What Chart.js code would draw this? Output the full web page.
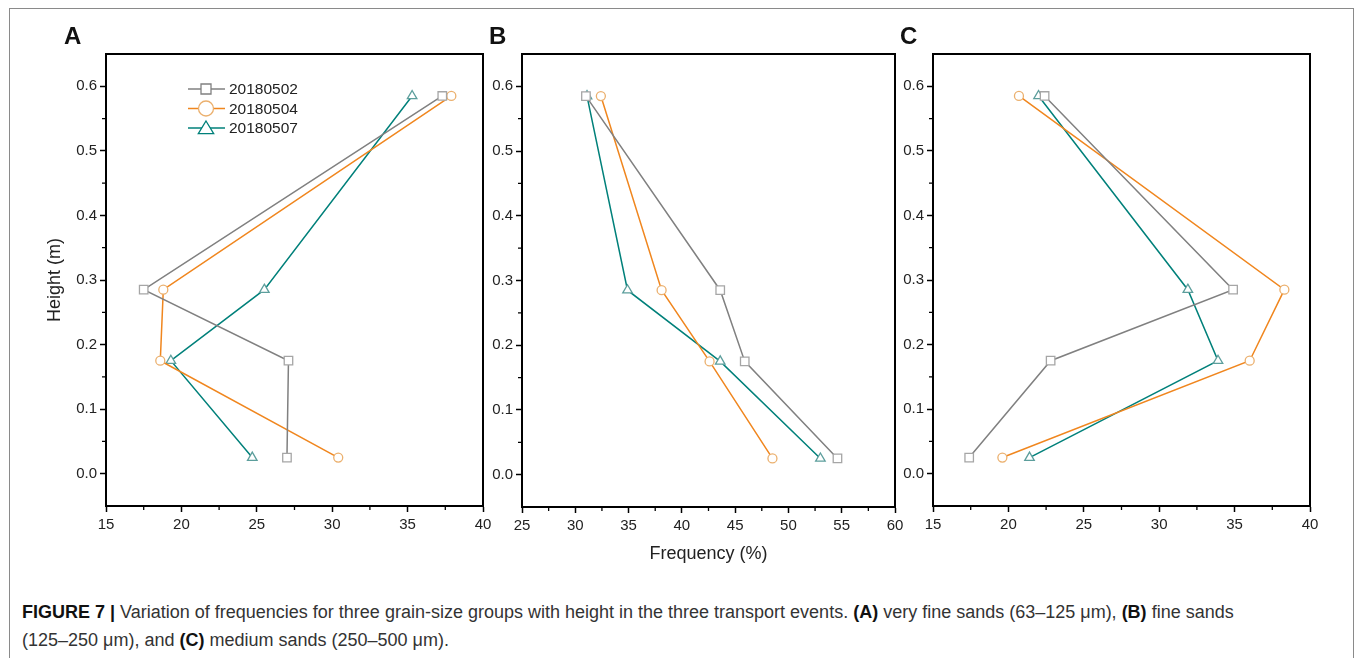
<!DOCTYPE html>
<html>
<head>
<meta charset="utf-8">
<script src="https://cdn.jsdelivr.net/npm/chart.js@4.4.0/dist/chart.umd.min.js"></script>
<style>
  body { margin: 0; background: #fff; font-family: 'Liberation Sans', Arial, sans-serif; }
  #wrap { position: relative; width: 1355px; height: 658px; overflow: hidden; }
  #frame { position: absolute; left: 9px; top: 8px; width: 1343px; height: 700px; border: 1px solid #8a8a8a; }
  canvas { position: absolute; left: 0; top: 0; }
  .letter { position: absolute; top: 24px; font: bold 24px/24px 'Liberation Sans', Arial, sans-serif; color: #111; }
  #caption { position: absolute; left: 22px; top: 598px; font-size: 18px; line-height: 28px; color: #333; white-space: nowrap; }
  #caption b { color: #111; }
</style>
</head>
<body>
<div id="wrap">
  <div id="frame"></div>
  <canvas id="chartA" width="1355" height="580"></canvas>
  <canvas id="chartB" width="1355" height="580"></canvas>
  <canvas id="chartC" width="1355" height="580"></canvas>
  <div class="letter" style="left:64px">A</div>
  <div class="letter" style="left:489px">B</div>
  <div class="letter" style="left:900px">C</div>
  <div id="caption"><b>FIGURE 7 |</b> Variation of frequencies for three grain-size groups with height in the three transport events. <b>(A)</b> very fine sands (63–125 μm), <b>(B)</b> fine sands<br>(125–250 μm), and <b>(C)</b> medium sands (250–500 μm).</div>
</div>
<script>
// hauteurs de prélèvement (m)
const heights = [0.585, 0.285, 0.175, 0.025];
const events = ['20180502', '20180504', '20180507'];

// A : sables très fins
const freqA_0502 = [37.3, 17.5, 27.1, 27.0];
const freqA_0504 = [37.9, 18.8, 18.6, 30.4];
const freqA_0507 = [35.3, 25.5, 19.3, 24.7];
// B : sables fins
const freqB_0502 = [31.0, 43.6, 45.9, 54.6];
const freqB_0504 = [32.4, 38.1, 42.6, 48.5];
const freqB_0507 = [31.1, 34.9, 43.6, 53.0];
// C : sables moyens
const freqC_0502 = [22.4, 34.9, 22.8, 17.4];
const freqC_0504 = [20.7, 38.3, 36.0, 19.6];
const freqC_0507 = [22.0, 31.9, 33.9, 21.4];

const yTicks = [0.0, 0.1, 0.2, 0.3, 0.4, 0.5, 0.6];
const yMinor = [0.05, 0.15, 0.25, 0.35, 0.45, 0.55];
const xTicksAC = [15, 20, 25, 30, 35, 40];
const xMinorAC = [17.5, 22.5, 27.5, 32.5, 37.5];
const xTicksB = [25, 30, 35, 40, 45, 50, 55, 60];
const xMinorB = [27.5, 32.5, 37.5, 42.5, 47.5, 52.5, 57.5];

Chart.defaults.font.family = "'Liberation Sans', Arial, sans-serif";
Chart.defaults.color = '#222';

const styles = [
    { line: '#808080', mark: '#a6a6a6', shape: 'rect', r: 6 },
    { line: '#f0861e', mark: '#ebb06e', shape: 'circle', r: 4.5 },
    { line: '#00807a', mark: '#5c9e9c', shape: 'triangle', r: 5.5 }
];

const toPts = (xs) => xs.map((x, i) => ({ x: x, y: heights[i] }));

function makeSets(series) {
    return series.map((s, i) => ({
        label: events[i], data: toPts(s), showLine: true,
        borderColor: styles[i].line, borderWidth: 1.5,
        pointStyle: styles[i].shape, pointRadius: styles[i].r,
        pointBackgroundColor: '#fff', pointBorderColor: styles[i].mark, pointBorderWidth: 1.3
    }));
}

// cadre haut/droite + petites graduations
const framePlugin = {
    id: 'frameBox',
    afterDraw(chart) {
        const { ctx, chartArea: a, scales: { x, y } } = chart;
        const o = chart.options.plugins.frameBox;
        ctx.save();
        ctx.strokeStyle = '#000';
        ctx.lineWidth = 2;
        ctx.beginPath();
        ctx.moveTo(a.left, a.top); ctx.lineTo(a.right, a.top); ctx.lineTo(a.right, a.bottom);
        ctx.stroke();
        ctx.lineWidth = 1.3;
        ctx.beginPath();
        o.xMinor.forEach(v => { const px = x.getPixelForValue(v); ctx.moveTo(px, a.bottom); ctx.lineTo(px, a.bottom + 4); });
        o.yMinor.forEach(v => { const py = y.getPixelForValue(v); ctx.moveTo(a.left, py); ctx.lineTo(a.left - 4, py); });
        ctx.stroke();
        ctx.restore();
    }
};

function drawMark(ctx, shape, cx, cy, r) {
    ctx.beginPath();
    if (shape === 'rect') {
        ctx.rect(cx - r, cy - r, 2 * r, 2 * r);
    } else if (shape === 'circle') {
        ctx.arc(cx, cy, r, 0, Math.PI * 2);
    } else {
        ctx.moveTo(cx, cy - r);
        ctx.lineTo(cx + r * 1.1, cy + r * 0.8);
        ctx.lineTo(cx - r * 1.1, cy + r * 0.8);
        ctx.closePath();
    }
    ctx.fill();
    ctx.stroke();
}

// légende dans le graphe A
const legendPlugin = {
    id: 'boxLegend',
    afterDraw(chart) {
        if (!chart.options.plugins.boxLegend.show) return;
        const { ctx, chartArea: a } = chart;
        const x0 = a.left + 82, y0 = a.top + 35;
        const sizes = [5, 7.5, 7];
        ctx.save();
        ctx.font = "15.5px 'Liberation Sans', Arial, sans-serif";
        ctx.textBaseline = 'middle';
        events.forEach((ev, i) => {
            const yy = y0 + i * 19.5;
            ctx.strokeStyle = styles[i].line;
            ctx.lineWidth = 1.5;
            ctx.beginPath(); ctx.moveTo(x0, yy); ctx.lineTo(x0 + 37, yy); ctx.stroke();
            ctx.fillStyle = '#fff';
            ctx.strokeStyle = i === 1 ? styles[i].mark : styles[i].line;
            ctx.lineWidth = 1.3;
            drawMark(ctx, styles[i].shape, x0 + 18, yy, sizes[i]);
            ctx.fillStyle = '#222';
            ctx.fillText(ev, x0 + 41, yy + 1);
        });
        ctx.restore();
    }
};

function buildChart(id, series, p) {
    new Chart(document.getElementById(id), {
        type: 'scatter',
        data: { datasets: makeSets(series) },
        plugins: [framePlugin, legendPlugin],
        options: {
            responsive: false, animation: false,
            layout: { padding: p.pad },
            plugins: {
                legend: { display: false }, tooltip: { enabled: false },
                frameBox: { xMinor: p.xMinor, yMinor: yMinor },
                boxLegend: { show: p.legend }
            },
            scales: {
                x: {
                    type: 'linear', min: p.xMin, max: p.xMax,
                    afterBuildTicks: ax => { ax.ticks = p.xTicks.map(v => ({ value: v })); },
                    afterFit: ax => { ax.height = p.xH; },
                    ticks: { font: { size: 15 }, padding: 4, maxRotation: 0, callback: v => String(v) },
                    grid: { drawOnChartArea: false, tickLength: 6, tickColor: '#000', tickWidth: 1.5 },
                    border: { color: '#000', width: 2 },
                    title: { display: !!p.xTitle, text: p.xTitle || '', font: { size: 18 }, color: '#222' }
                },
                y: {
                    type: 'linear', min: -0.05, max: 0.65,
                    afterBuildTicks: ax => { ax.ticks = yTicks.map(v => ({ value: v })); },
                    afterFit: ax => { ax.width = p.yW; },
                    ticks: { font: { size: 15 }, padding: 3, callback: v => Number(v).toFixed(1) },
                    grid: { drawOnChartArea: false, tickLength: 6, tickColor: '#000', tickWidth: 1.5 },
                    border: { color: '#000', width: 2 },
                    title: { display: !!p.yTitle, text: p.yTitle || '', font: { size: 18 }, color: '#222' }
                }
            }
        }
    });
}

buildChart('chartA', [freqA_0502, freqA_0504, freqA_0507], {
    pad: { left: 40, right: 872, top: 54, bottom: 34 }, yW: 66, xH: 40,
    xMin: 15, xMax: 40, xTicks: xTicksAC, xMinor: xMinorAC, yTitle: 'Height (m)', legend: true
});
buildChart('chartB', [freqB_0502, freqB_0504, freqB_0507], {
    pad: { left: 477, right: 460, top: 54, bottom: 11 }, yW: 45, xH: 62,
    xMin: 25, xMax: 60, xTicks: xTicksB, xMinor: xMinorB, xTitle: 'Frequency (%)', legend: false
});
buildChart('chartC', [freqC_0502, freqC_0504, freqC_0507], {
    pad: { left: 888, right: 45, top: 54, bottom: 34 }, yW: 45, xH: 40,
    xMin: 15, xMax: 40, xTicks: xTicksAC, xMinor: xMinorAC, legend: false
});
</script>
</body>
</html>
